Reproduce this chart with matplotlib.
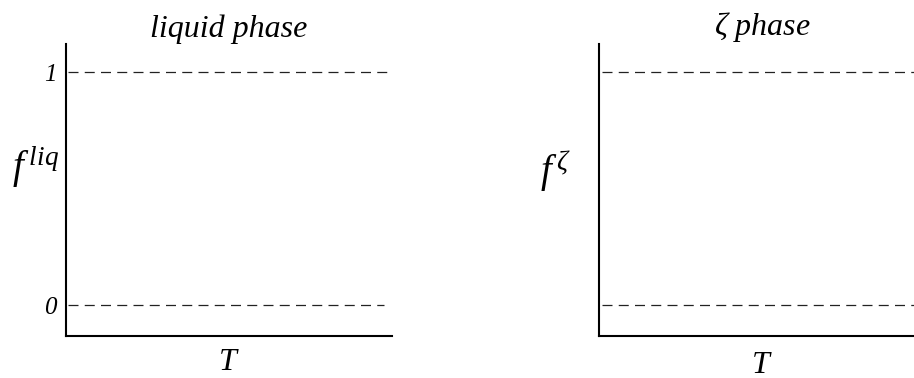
import matplotlib
matplotlib.use("Agg")
import matplotlib.pyplot as plt

# data: the two limit levels of the phase fraction
levels = [1, 0]
level_labels = ["1", "0"]
T_span_left = [[0.006, 0.988], [0.006, 0.975]]
T_span_right = [[0.01, 1.0], [0.01, 1.0]]

plt.rcParams['font.family'] = ['Liberation Serif', 'DejaVu Serif']
plt.rcParams['mathtext.fontset'] = 'custom'
plt.rcParams['mathtext.rm'] = 'Liberation Serif'
plt.rcParams['mathtext.it'] = 'Liberation Serif:italic'

fig = plt.figure(figsize=(9.14, 3.78), dpi=100)
ax1 = fig.add_axes([0.0722, 0.111, 0.3567, 0.7725])
ax2 = fig.add_axes([0.6554, 0.111, 0.3567, 0.7725])

for ax, spans in ((ax1, T_span_left), (ax2, T_span_right)):
    for y, (x0, x1) in zip(levels, spans):
        ax.hlines(y, x0, x1, colors='#222222', linestyles=(0, (8, 5)), lw=0.9)
    ax.set_xlim(0, 1)
    ax.set_ylim(-0.133, 1.12)
    ax.spines['top'].set_visible(False)
    ax.spines['right'].set_visible(False)
    ax.spines['left'].set_linewidth(1.5)
    ax.spines['bottom'].set_linewidth(1.5)
    ax.set_xticks([])
    ax.tick_params(axis='y', length=0, pad=7)
    ax.set_xlabel('$T$', fontsize=23)

ax1.set_yticks(levels)
ax1.set_yticklabels(level_labels, fontsize=18, fontstyle='italic')
ax2.set_yticks([])

ax1.set_title('liquid phase', fontsize=23, fontstyle='italic', pad=0)
ax2.set_title('$\\zeta$ phase', fontsize=23, fontstyle='italic', pad=0)

ax1.set_ylabel('$f^{\\,liq}$', fontsize=28, rotation=0, va='center')
ax2.set_ylabel('$f^{\\,\\zeta}$', fontsize=28, rotation=0, va='center')
ax1.yaxis.set_label_coords(-0.095, 0.58)
ax2.yaxis.set_label_coords(-0.132, 0.565)
ax1.xaxis.set_label_coords(0.5, -0.04)
ax2.xaxis.set_label_coords(0.5, -0.05)

fig.savefig('out.png', dpi=100)
